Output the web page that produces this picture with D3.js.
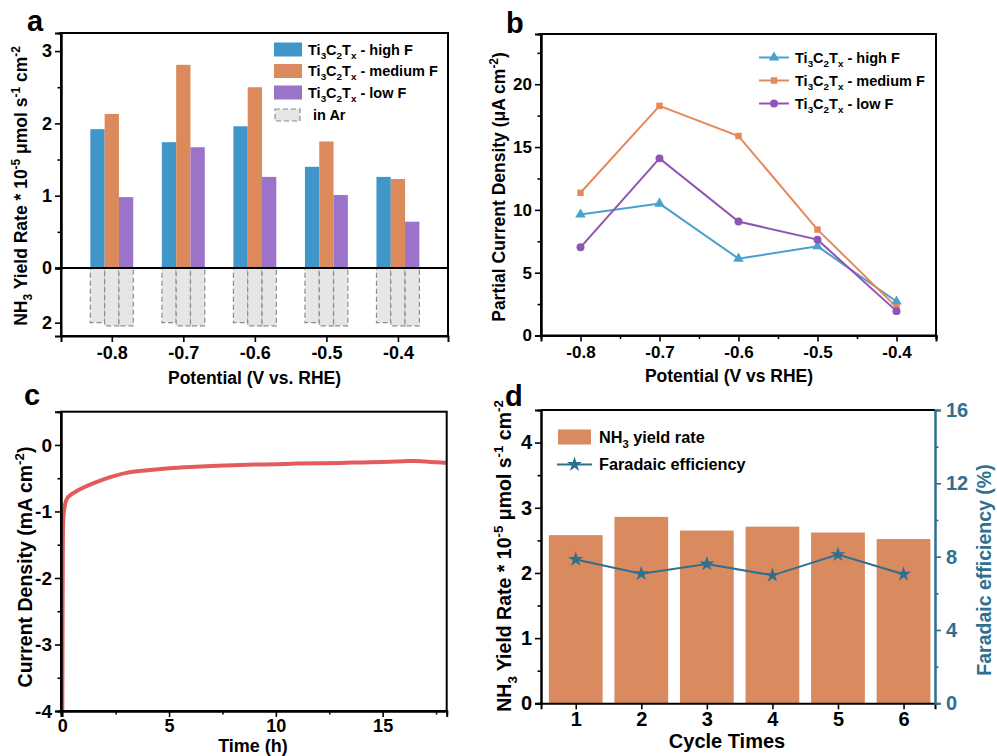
<!DOCTYPE html>
<html><head><meta charset="utf-8">
<script src="https://cdn.jsdelivr.net/npm/d3@7"></script>
<style>
body{margin:0;background:#fff}
svg{display:block}
text{font-family:"Liberation Sans",Arial,Helvetica,sans-serif;font-weight:bold;white-space:pre}
</style>
</head><body>
<svg id="fig" width="997" height="756"></svg>
<script>
// ---------- data ----------
const potentials = [-0.8, -0.7, -0.6, -0.5, -0.4];
const yieldHighF = [1.92, 1.74, 1.96, 1.40, 1.26];
const yieldMedF  = [2.13, 2.81, 2.50, 1.75, 1.23];
const yieldLowF  = [0.98, 1.67, 1.26, 1.01, 0.64];
const arHighF = [2.0, 2.0, 2.0, 2.0, 2.0];
const arMedF  = [2.12, 2.12, 2.12, 2.12, 2.12];
const arLowF  = [2.12, 2.12, 2.12, 2.12, 2.12];
const jHighF = [9.63, 10.5, 6.12, 7.1, 2.71];
const jMedF  = [11.36, 18.28, 15.88, 8.43, 2.26];
const jLowF  = [7.02, 14.1, 9.07, 7.63, 1.94];
const timeH    = [0, 0.01, 0.02, 0.03, 0.05, 0.1, 0.2, 0.4, 0.7, 1.0, 1.5, 2.0, 2.5, 3.0, 4.0, 5.0, 6.0, 7.0, 8.0, 9.0, 10.0, 11.0, 12.0, 13.0, 14.0, 15.0, 16.0, 16.5, 17.0, 17.5, 18.0];
const currentJ = [-4.0, -3.0, -2.0, -1.3, -1.1, -0.95, -0.82, -0.75, -0.69, -0.64, -0.57, -0.51, -0.46, -0.42, -0.38, -0.35, -0.33, -0.315, -0.305, -0.295, -0.29, -0.28, -0.275, -0.27, -0.262, -0.255, -0.245, -0.24, -0.25, -0.26, -0.27];
const cycles = [1, 2, 3, 4, 5, 6];
const cycleYield = [2.58, 2.86, 2.65, 2.71, 2.62, 2.52];
const cycleFE = [7.85, 7.07, 7.6, 6.98, 8.11, 7.04];

const seriesNames = ["high F", "medium F", "low F"];
const barColors = ["#4096c8", "#dc8a5c", "#9b73c8"];
const lineColors = ["#4aa0cf", "#e5895a", "#8f55b5"];
const teal = "#2f6f8f";

const svg = d3.select("#fig");

function rich(sel, parts, fs) {
  let shift = 0;
  parts.forEach(([t, k]) => {
    const target = k === "sub" ? fs * 0.3 : k === "sup" ? -fs * 0.4 : 0;
    sel.append("tspan").attr("dy", target - shift)
      .attr("font-size", k === "n" ? fs : fs * 0.68).text(t);
    shift = target;
  });
  return sel;
}
function tiParts(s) {
  return [["Ti","n"],["3","sub"],["C","n"],["2","sub"],["T","n"],["x","sub"],[" - " + s,"n"]];
}
const nh3Title = [["NH","n"],["3","sub"],[" Yield Rate * 10","n"],["-5","sup"],[" μmol s","n"],["-1","sup"],[" cm","n"],["-2","sup"]];

function styleAxis(g, fs, color) {
  g.attr("font-size", fs).attr("font-family", null);
  g.select(".domain").attr("stroke-width", 2).attr("stroke", color || "#000");
  g.selectAll(".tick line").attr("stroke-width", 1.6).attr("stroke", color || "#000");
  g.selectAll(".tick text").attr("fill", color || "#000");
}
function drawAxis(g, axisFn, scale, majors, minors, fmt, fs, color, pad) {
  if (minors && minors.length) {
    const gm = g.append("g").call(axisFn(scale).tickValues(minors).tickSize(3.5).tickFormat(""));
    styleAxis(gm, fs, color);
  }
  const gM = g.append("g").call(axisFn(scale).tickValues(majors).tickSize(6).tickPadding(pad || 3).tickFormat(fmt));
  styleAxis(gM, fs, color);
}
function rotTitle(x, y, parts, fs, color) {
  const t = svg.append("text").attr("transform", `translate(${x},${y}) rotate(-90)`)
    .attr("text-anchor", "middle").attr("font-size", fs).attr("fill", color || "#000");
  rich(t, parts, fs);
}
function hTitle(x, y, s, fs) {
  svg.append("text").attr("x", x).attr("y", y).attr("text-anchor", "middle").attr("font-size", fs).text(s);
}
function panelLabel(x, y, s) {
  svg.append("text").attr("x", x).attr("y", y).attr("font-size", 29).text(s);
}
const f1 = d => d.toFixed(1);
const f0 = d => String(d);

// ---------- Panel a ----------
{
  const L = 61, R = 448, T = 33, B = 336;
  const x = d3.scaleLinear().domain([-0.871, -0.33]).range([L, R]);
  const yU = d3.scaleLinear().domain([0, 3.25]).range([268, T]);
  const yL = d3.scaleLinear().domain([0, 2.49]).range([268, B]);
  const g = svg.append("g");
  const bw = x(0.02) - x(0);
  const offs = [-0.03, -0.01, 0.01];
  const ys = [yieldHighF, yieldMedF, yieldLowF];
  const ars = [arHighF, arMedF, arLowF];
  ars.forEach((arr, i) => {
    g.selectAll(null).data(potentials).enter().append("rect")
      .attr("x", (p) => x(p + offs[i])).attr("width", bw)
      .attr("y", yL(0)).attr("height", (p, j) => yL(arr[j]) - yL(0))
      .attr("fill", "#e6e6e6").attr("stroke", "#8c8c8c").attr("stroke-width", 1.2)
      .attr("stroke-dasharray", "5,3");
  });
  ys.forEach((arr, i) => {
    g.selectAll(null).data(potentials).enter().append("rect")
      .attr("x", (p) => x(p + offs[i])).attr("width", bw)
      .attr("y", (p, j) => yU(arr[j])).attr("height", (p, j) => yU(0) - yU(arr[j]))
      .attr("fill", barColors[i]);
  });
  g.append("line").attr("x1", L).attr("x2", R).attr("y1", yU(0)).attr("y2", yU(0))
    .attr("stroke", "#000").attr("stroke-width", 2);
  g.append("rect").attr("x", L).attr("y", T).attr("width", R - L).attr("height", B - T)
    .attr("fill", "none").attr("stroke", "#000").attr("stroke-width", 2);
  const ga = g.append("g").attr("transform", `translate(${L},0)`);
  drawAxis(ga, d3.axisLeft, yU, [0, 1, 2, 3], [0.5, 1.5, 2.5], f0, 18);
  const gl = g.append("g").attr("transform", `translate(${L},0)`);
  drawAxis(gl, d3.axisLeft, yL, [2], [], f0, 18);
  const gx = g.append("g").attr("transform", `translate(0,${B})`);
  drawAxis(gx, d3.axisBottom, x, potentials, [], f1, 18, null, 4);
  const lg = g.append("g");
  const rows = [49.5, 71, 92.5, 115];
  seriesNames.forEach((s, i) => {
    lg.append("rect").attr("x", 274).attr("y", rows[i] - 7).attr("width", 28).attr("height", 14).attr("fill", barColors[i]);
    rich(lg.append("text").attr("x", 308).attr("y", rows[i] + 5).attr("font-size", 14.5), tiParts(s), 14.5);
  });
  lg.append("rect").attr("x", 275).attr("y", rows[3] - 6).attr("width", 25).attr("height", 12)
    .attr("fill", "#e6e6e6").attr("stroke", "#8c8c8c").attr("stroke-width", 1.2).attr("stroke-dasharray", "5,3");
  lg.append("text").attr("x", 313).attr("y", rows[3] + 5).attr("font-size", 14.5).text("in Ar");
  rotTitle(27, 186, nh3Title, 17.5);
  hTitle(254.5, 384, "Potential (V vs. RHE)", 17.5);
  panelLabel(27, 31, "a");
}

// ---------- Panel b ----------
{
  const L = 541, R = 936, T = 34, B = 335.5;
  const x = d3.scaleLinear().domain([-0.85, -0.35]).range([L, R]);
  const y = d3.scaleLinear().domain([0, 24]).range([B, T]);
  const g = svg.append("g");
  g.append("rect").attr("x", L).attr("y", T).attr("width", R - L).attr("height", B - T)
    .attr("fill", "none").attr("stroke", "#000").attr("stroke-width", 2);
  drawAxis(g.append("g").attr("transform", `translate(${L},0)`), d3.axisLeft, y,
    [0, 5, 10, 15, 20], [2.5, 7.5, 12.5, 17.5, 22.5], f0, 17);
  drawAxis(g.append("g").attr("transform", `translate(0,${B})`), d3.axisBottom, x,
    potentials, [-0.75, -0.65, -0.55, -0.45, -0.35], f1, 17, null, 4);
  const data = [jHighF, jMedF, jLowF];
  const symbols = [d3.symbolTriangle, d3.symbolSquare, d3.symbolCircle];
  const sizes = [48, 42, 50];
  const line = d3.line().x((d, i) => x(potentials[i])).y(d => y(d));
  data.forEach((arr, i) => {
    g.append("path").attr("d", line(arr)).attr("fill", "none").attr("stroke", lineColors[i]).attr("stroke-width", 2);
  });
  data.forEach((arr, i) => {
    g.selectAll(null).data(arr).enter().append("path")
      .attr("d", d3.symbol().type(symbols[i]).size(sizes[i]))
      .attr("transform", (d, j) => `translate(${x(potentials[j])},${y(d)})`)
      .attr("fill", lineColors[i]);
  });
  const rows = [57.5, 80.5, 103.5];
  seriesNames.forEach((s, i) => {
    g.append("line").attr("x1", 759).attr("x2", 789).attr("y1", rows[i]).attr("y2", rows[i])
      .attr("stroke", lineColors[i]).attr("stroke-width", 2);
    g.append("path").attr("d", d3.symbol().type(symbols[i]).size(sizes[i]))
      .attr("transform", `translate(774,${rows[i]})`).attr("fill", lineColors[i]);
    rich(g.append("text").attr("x", 795).attr("y", rows[i] + 5).attr("font-size", 14.5), tiParts(s), 14.5);
  });
  rotTitle(505, 187, [["Partial Current Density (μA cm","n"],["-2","sup"],[")","n"]], 17.5);
  hTitle(729, 382, "Potential (V vs RHE)", 17.5);
  panelLabel(506, 33, "b");
}

// ---------- Panel c ----------
{
  const L = 61, R = 446.7, T = 411.7, B = 711;
  const x = d3.scaleLinear().domain([-0.06, 18]).range([L, R]);
  const y = d3.scaleLinear().domain([-4, 0.5]).range([B, T]);
  const g = svg.append("g");
  const line = d3.line().x((d, i) => x(timeH[i])).y(d => y(d)).curve(d3.curveMonotoneX);
  g.append("path").attr("d", line(currentJ)).attr("fill", "none")
    .attr("stroke", "#e25b5d").attr("stroke-width", 4).attr("stroke-linejoin", "round");
  g.append("rect").attr("x", L).attr("y", T).attr("width", R - L).attr("height", B - T)
    .attr("fill", "none").attr("stroke", "#000").attr("stroke-width", 2);
  drawAxis(g.append("g").attr("transform", `translate(${L},0)`), d3.axisLeft, y,
    [-4, -3, -2, -1, 0], [-3.5, -2.5, -1.5, -0.5], f0, 19);
  drawAxis(g.append("g").attr("transform", `translate(0,${B})`), d3.axisBottom, x,
    [0, 5, 10, 15], [2.5, 7.5, 12.5, 17.5], f0, 18, null, 2);
  rotTitle(32, 567, [["Current Density (mA cm","n"],["-2","sup"],[")","n"]], 19.5);
  hTitle(253, 752, "Time (h)", 18);
  panelLabel(24, 405, "c");
}

// ---------- Panel d ----------
{
  const L = 541, R = 935, T = 410, B = 703.3;
  const x = d3.scaleLinear().domain([0.47, 6.48]).range([L, R]);
  const yL = d3.scaleLinear().domain([0, 4.5]).range([B, T]);
  const yR = d3.scaleLinear().domain([0, 16]).range([B, T]);
  const g = svg.append("g");
  const bw = x(0.82) - x(0);
  g.selectAll(null).data(cycleYield).enter().append("rect")
    .attr("x", (d, i) => x(cycles[i]) - bw / 2).attr("width", bw)
    .attr("y", d => yL(d)).attr("height", d => yL(0) - yL(d)).attr("fill", "#d98a5f");
  const line = d3.line().x((d, i) => x(cycles[i])).y(d => yR(d));
  g.append("path").attr("d", line(cycleFE)).attr("fill", "none").attr("stroke", teal).attr("stroke-width", 2);
  g.selectAll(null).data(cycleFE).enter().append("path")
    .attr("d", d3.symbol().type(d3.symbolStar).size(70))
    .attr("transform", (d, i) => `translate(${x(cycles[i])},${yR(d)})`).attr("fill", teal);
  g.append("line").attr("x1", L).attr("x2", R).attr("y1", T).attr("y2", T).attr("stroke", "#000").attr("stroke-width", 2);
  drawAxis(g.append("g").attr("transform", `translate(${L},0)`), d3.axisLeft, yL,
    [0, 1, 2, 3, 4], [0.5, 1.5, 2.5, 3.5], f0, 20);
  drawAxis(g.append("g").attr("transform", `translate(0,${B})`), d3.axisBottom, x,
    cycles, [], f0, 20);
  drawAxis(g.append("g").attr("transform", `translate(${R},0)`), d3.axisRight, yR,
    [0, 4, 8, 12, 16], [2, 6, 10, 14], f0, 20, teal, 5);
  g.append("rect").attr("x", 558).attr("y", 429.5).attr("width", 33).attr("height", 15).attr("fill", "#d98a5f");
  rich(g.append("text").attr("x", 599).attr("y", 443).attr("font-size", 16.3),
    [["NH","n"],["3","sub"],[" yield rate","n"]], 16.3);
  g.append("line").attr("x1", 557).attr("x2", 592).attr("y1", 464.5).attr("y2", 464.5).attr("stroke", teal).attr("stroke-width", 2);
  g.append("path").attr("d", d3.symbol().type(d3.symbolStar).size(70))
    .attr("transform", "translate(574.5,464.5)").attr("fill", teal);
  g.append("text").attr("x", 599).attr("y", 470).attr("font-size", 16.3).text("Faradaic efficiency");
  rotTitle(511, 556, nh3Title, 19.5);
  rotTitle(991, 570, [["Faradaic efficiency (%)","n"]], 19.5, teal);
  hTitle(727, 748, "Cycle Times", 20);
  panelLabel(505, 406, "d");
}
</script>
</body></html>
